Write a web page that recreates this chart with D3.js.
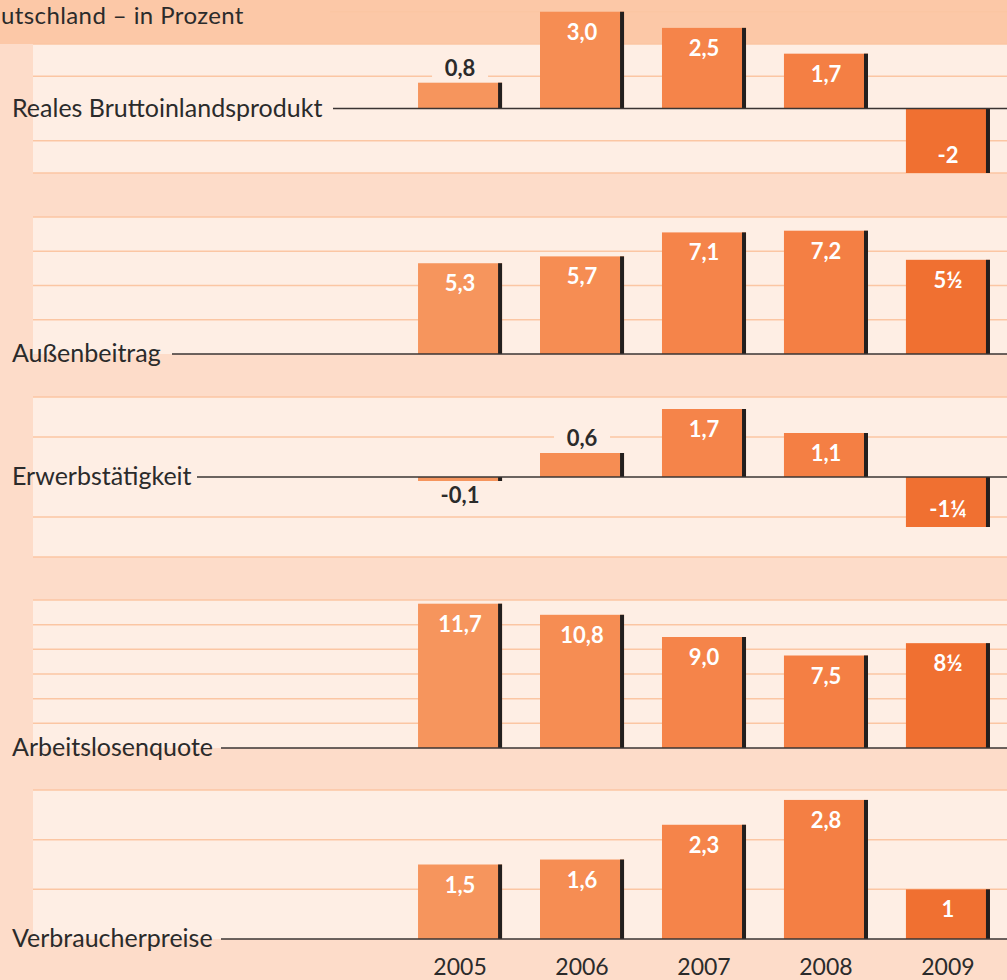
<!DOCTYPE html>
<meta charset="utf-8">
<head>
  <title>Eckdaten Deutschland</title>
  <script src="https://cdn.jsdelivr.net/npm/d3@7"></script>
  <style>
    body { margin: 0; background: #fddcc9; }
    svg { display: block; font-family: Lato, "Noto Sans", sans-serif; }
    .grid line { stroke: #fbc6a3; stroke-width: 1.5px; }
    .cat { fill: #2b2b2b; font-size: 25px; }
    .val { font-size: 22px; font-weight: 700; text-anchor: middle; }
    .year { fill: #2b2b2b; font-size: 23px; text-anchor: middle; }
  </style>
</head>
<body>
  <svg width="1007" height="980"></svg>
  <script>
    const width = 1007;
    const height = 980;

    const years = ["2005", "2006", "2007", "2008", "2009"];
    const categories = ["Reales Bruttoinlandsprodukt", "Außenbeitrag", "Erwerbstätigkeit",
                        "Arbeitslosenquote", "Verbraucherpreise"];

    const bip = [0.8, 3.0, 2.5, 1.7, -2];
    const bipLabels = ["0,8", "3,0", "2,5", "1,7", "-2"];
    const aussen = [5.3, 5.7, 7.1, 7.2, 5.5];
    const aussenLabels = ["5,3", "5,7", "7,1", "7,2", "5½"];
    const erwerb = [-0.1, 0.6, 1.7, 1.1, -1.25];
    const erwerbLabels = ["-0,1", "0,6", "1,7", "1,1", "-1¼"];
    const alq = [11.7, 10.8, 9.0, 7.5, 8.5];
    const alqLabels = ["11,7", "10,8", "9,0", "7,5", "8½"];
    const vpi = [1.5, 1.6, 2.3, 2.8, 1];
    const vpiLabels = ["1,5", "1,6", "2,3", "2,8", "1"];

    const barColors = ["#f6955d", "#f68d53", "#f5844a", "#f47f44", "#f07031"];

    // layout of the five panels: value domain, pixel span, grid step
    const panels = [
      { name: categories[0], values: bip, labels: bipLabels, domain: [-2, 2], range: [173, 44], step: 1, extra: [3], lineFrom: 333 },
      { name: categories[1], values: aussen, labels: aussenLabels, domain: [0, 8], range: [354, 217], step: 2, extra: [], lineFrom: 172 },
      { name: categories[2], values: erwerb, labels: erwerbLabels, domain: [-2, 2], range: [557, 397], step: 1, extra: [], lineFrom: 197 },
      { name: categories[3], values: alq, labels: alqLabels, domain: [0, 12], range: [748, 600], step: 2, extra: [], lineFrom: 221 },
      { name: categories[4], values: vpi, labels: vpiLabels, domain: [0, 3], range: [939, 790], step: 1, extra: [], lineFrom: 221 }
    ];

    const svg = d3.select("svg");

    // header band (title is cut at the left edge in the original)
    svg.append("rect")
      .attr("x", 0).attr("y", 0).attr("width", width).attr("height", 44)
      .attr("fill", "#fcc8a7");
    svg.append("text")
      .attr("x", 1).attr("y", 24)
      .attr("fill", "#2b2b2b")
      .attr("font-size", 24)
      .attr("letter-spacing", 0.4)
      .text("utschland – in Prozent");

    const x = d3.scaleBand()
      .domain(years)
      .range([399, 1009])
      .paddingInner(0.311)
      .paddingOuter(0.156);

    const shadow = 4;

    panels.forEach(function (p) {
      const y = d3.scaleLinear().domain(p.domain).range(p.range);
      const g = svg.append("g");

      g.append("rect")
        .attr("x", 33).attr("y", p.range[1])
        .attr("width", width - 33).attr("height", p.range[0] - p.range[1])
        .attr("fill", "#feeee4");

      const ticks = d3.range(p.domain[0], p.domain[1] + p.step / 2, p.step).filter(function (t) { return t !== 0; });
      g.append("g").attr("class", "grid")
        .selectAll("line")
        .data(ticks)
        .enter().append("line")
          .attr("x1", 33).attr("x2", width)
          .attr("y1", function (d) { return y(d); })
          .attr("y2", function (d) { return y(d); });

      g.append("g").attr("class", "grid")
        .selectAll("line")
        .data(p.extra)
        .enter().append("line")
          .attr("x1", 330).attr("x2", width)
          .attr("y1", function (d) { return y(d); })
          .attr("y2", function (d) { return y(d); });

      const rows = p.values.map(function (v, i) {
        return { year: years[i], value: v, label: p.labels[i], color: barColors[i] };
      });

      const bar = g.append("g").selectAll("g")
        .data(rows)
        .enter().append("g");

      bar.append("rect")
        .attr("x", function (d) { return x(d.year); })
        .attr("y", function (d) { return y(Math.max(0, d.value)); })
        .attr("width", x.bandwidth())
        .attr("height", function (d) { return Math.abs(y(d.value) - y(0)); })
        .attr("fill", function (d) { return d.color; });

      bar.append("rect")
        .attr("x", function (d) { return x(d.year) + x.bandwidth() - shadow; })
        .attr("y", function (d) { return y(Math.max(0, d.value)); })
        .attr("width", shadow)
        .attr("height", function (d) { return Math.abs(y(d.value) - y(0)); })
        .attr("fill", "#231f1e");

      // zero line with category label
      g.append("line")
        .attr("x1", p.lineFrom).attr("x2", width)
        .attr("y1", y(0)).attr("y2", y(0))
        .attr("stroke", "#3a3433").attr("stroke-width", 1.6);

      g.append("text")
        .attr("class", "cat")
        .attr("x", 12).attr("y", y(0) + 8)
        .text(p.name);

      // value labels
      bar.each(function (d) {
        const h = Math.abs(y(d.value) - y(0));
        const cx = x(d.year) + x.bandwidth() / 2;
        const sel = d3.select(this);
        let ty, fill;
        if (h > 38) {
          fill = "#ffffff";
          ty = d.value > 0 ? y(d.value) + 28 : y(d.value) - 10;
        } else {
          fill = "#2b2b2b";
          ty = d.value > 0 ? y(d.value) - 7 : y(0) + 26;
        }
        if (h <= 38 && d.value > 0) {
          sel.append("rect")
            .attr("x", cx - 28).attr("y", ty - 20)
            .attr("width", 56).attr("height", 24)
            .attr("fill", "#feeee4");
        }
        sel.append("text")
          .attr("class", "val")
          .attr("x", cx).attr("y", ty)
          .attr("fill", fill)
          .text(d.label);
      });
    });

    svg.append("g").selectAll("text")
      .data(years)
      .enter().append("text")
        .attr("class", "year")
        .attr("x", function (d) { return x(d) + x.bandwidth() / 2; })
        .attr("y", 975)
        .text(function (d) { return d; });
  </script>
</body>
